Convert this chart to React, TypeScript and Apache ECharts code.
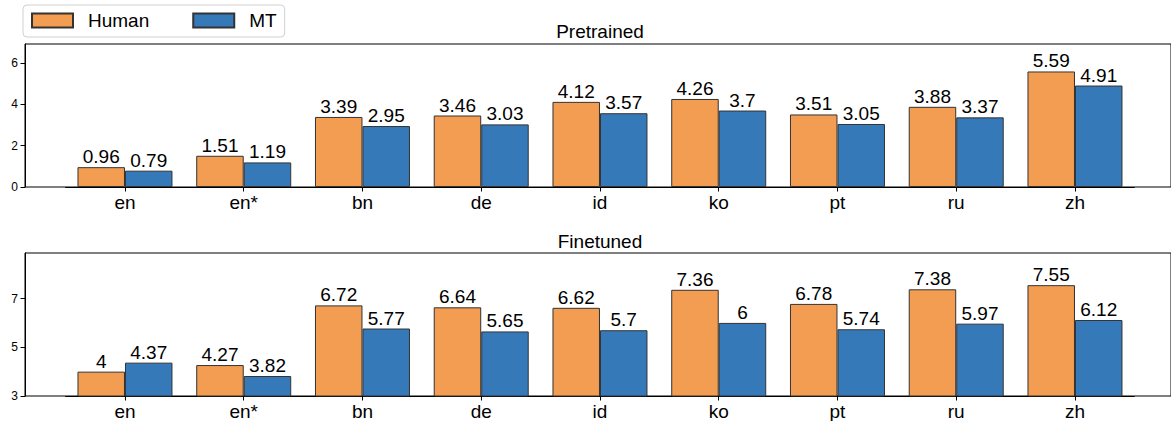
import React, { useEffect, useRef } from "react";
import * as echarts from "echarts";

const categories = ["en", "en*", "bn", "de", "id", "ko", "pt", "ru", "zh"];
const pretrainedHuman = [0.96, 1.51, 3.39, 3.46, 4.12, 4.26, 3.51, 3.88, 5.59];
const pretrainedMT = [0.79, 1.19, 2.95, 3.03, 3.57, 3.7, 3.05, 3.37, 4.91];
const finetunedHuman = [4, 4.27, 6.72, 6.64, 6.62, 7.36, 6.78, 7.38, 7.55];
const finetunedMT = [4.37, 3.82, 5.77, 5.65, 5.7, 6, 5.74, 5.97, 6.12];
const pretrainedTicks = [0, 2, 4, 6];
const finetunedTicks = [3, 5, 7];
const titles = ["Pretrained", "Finetuned"];

const ORANGE = "#F29D52";
const BLUE = "#3679B9";
const FONT = "Liberation Sans, Arial, sans-serif";

export default function App() {
  const ref = useRef<HTMLDivElement>(null);
  useEffect(() => {
    if (!ref.current) return;
    const chart = echarts.init(ref.current, null, { renderer: "svg" });

    const frameLeft = 25;
    const frameWidth = 1150;
    const dataLeft = 65.6;
    const dataWidth = 1068.75;
    const panels = [
      { top: 44, height: 143, min: 0, max: 6.92, ticks: pretrainedTicks, h: pretrainedHuman, m: pretrainedMT },
      { top: 253, height: 143, min: 3, max: 8.87, ticks: finetunedTicks, h: finetunedHuman, m: finetunedMT },
    ];

    const grid: any[] = [];
    const xAxis: any[] = [];
    const yAxis: any[] = [];
    const series: any[] = [];

    panels.forEach((p, i) => {
      grid.push({
        left: frameLeft, width: frameWidth, top: p.top, height: p.height,
        show: true, borderColor: "#000", borderWidth: 1, backgroundColor: "transparent",
      });
      xAxis.push({ type: "value", gridIndex: 2 * i, min: 0, max: 1, show: false });
      yAxis.push({
        type: "value", gridIndex: 2 * i, min: p.min, max: p.max,
        axisLine: { show: true, lineStyle: { color: "#000", width: 1 } },
        axisTick: { show: true, inside: false, length: 4.5, lineStyle: { color: "#000" }, customValues: p.ticks },
        axisLabel: { show: true, fontSize: 12, color: "#000", fontFamily: FONT, margin: 7, customValues: p.ticks },
        splitLine: { show: false },
      });
      grid.push({ left: dataLeft, width: dataWidth, top: p.top, height: p.height });
      xAxis.push({
        type: "category", gridIndex: 2 * i + 1, data: categories,
        axisLine: { show: true, lineStyle: { color: "#000", width: 1 } },
        axisTick: { show: true, alignWithLabel: true, length: 4.5, lineStyle: { color: "#000" } },
        axisLabel: { fontSize: 19, color: "#000", fontFamily: FONT, margin: 6, interval: 0 },
      });
      yAxis.push({ type: "value", gridIndex: 2 * i + 1, min: p.min, max: p.max, show: false });

      const mk = (name: string, data: number[], color: string) => ({
        name, type: "bar", xAxisIndex: 2 * i + 1, yAxisIndex: 2 * i + 1, data,
        barGap: "0%", barCategoryGap: "20%",
        itemStyle: { color, borderColor: "#333", borderWidth: 1 },
        label: { show: true, position: "top", distance: 1, fontSize: 19, color: "#000", fontFamily: FONT },
      });
      series.push(mk("Human", p.h, ORANGE));
      series.push(mk("MT", p.m, BLUE));
    });

    chart.setOption({
      animation: false,
      textStyle: { fontFamily: FONT },
      legend: {
        data: ["Human", "MT"],
        icon: "rect",
        left: 23, top: 5,
        padding: [6, 8, 7, 8],
        itemWidth: 41, itemHeight: 14, itemGap: 43,
        backgroundColor: "#fff", borderColor: "#d0d0d0", borderWidth: 1, borderRadius: 4,
        textStyle: { fontSize: 19, color: "#000", fontFamily: FONT, padding: [0, 0, 0, 10] },
      },
      graphic: titles.map((t, i) => ({
        type: "text", x: 600, y: i === 0 ? 31 : 241,
        style: { text: t, align: "center", verticalAlign: "middle", fontSize: 19, fontFamily: FONT, fill: "#000" },
      })),
      grid, xAxis, yAxis, series,
    });
    return () => chart.dispose();
  }, []);
  return <div ref={ref} style={{ position: "absolute", left: 0, top: 0, width: 1171, height: 421 }} />;
}
